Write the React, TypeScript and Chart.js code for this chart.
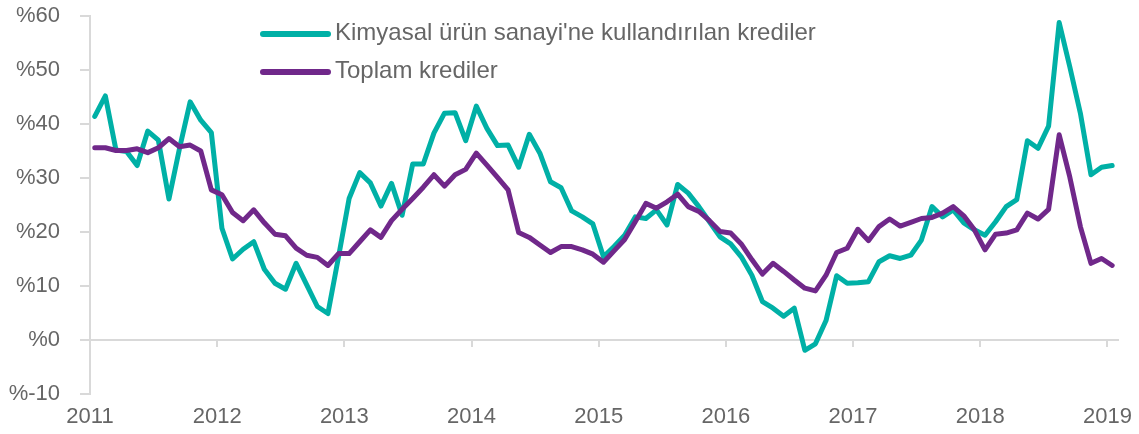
import { useEffect, useRef } from 'react';
import { Chart, registerables } from 'chart.js';

Chart.register(...registerables);

const seriesLabels = ["Kimyasal ürün sanayi'ne kullandırılan krediler", 'Toplam krediler'];

// Monthly values, Jan 2011 .. Jan 2019 (yearly % change)
const kimyasal = [
  41.4, 45.2, 35.2, 34.9, 32.3, 38.7, 37.0, 26.1, 35.5, 44.1, 40.7, 38.4,
  20.7, 15.0, 16.8, 18.2, 13.1, 10.5, 9.4, 14.2, 10.2, 6.2, 4.9, 15.4,
  26.2, 31.0, 29.1, 24.8, 29.0, 23.1, 32.6, 32.6, 38.3, 42.0, 42.1, 36.9,
  43.3, 39.2, 36.0, 36.1, 32.0, 38.1, 34.6, 29.3, 28.2, 23.9, 22.8, 21.5,
  15.4, 17.3, 19.4, 22.8, 22.5, 24.1, 21.3, 28.8, 27.2, 24.7, 21.9, 19.1,
  17.8, 15.4, 12.0, 7.1, 5.9, 4.4, 5.9, -1.9, -0.7, 3.6, 11.9, 10.5,
  10.6, 10.8, 14.5, 15.6, 15.1, 15.7, 18.5, 24.7, 22.8, 24.1, 21.7, 20.4,
  19.4, 21.9, 24.7, 26.0, 36.9, 35.5, 39.6, 58.8, 50.6, 42.0, 30.6, 32.0,
  32.3,
];

const toplam = [
  35.6, 35.6, 35.1, 35.1, 35.4, 34.7, 35.6, 37.3, 35.8, 36.1, 35.0, 27.8,
  26.9, 23.6, 22.1, 24.1, 21.7, 19.6, 19.3, 17.0, 15.7, 15.3, 13.8, 16.0,
  16.0, 18.2, 20.4, 19.0, 22.1, 24.2, 26.2, 28.3, 30.6, 28.5, 30.6, 31.6,
  34.6, 32.4, 30.1, 27.8, 19.9, 19.0, 17.6, 16.2, 17.3, 17.3, 16.7, 15.9,
  14.4, 16.5, 18.6, 21.9, 25.3, 24.4, 25.6, 27.0, 24.7, 23.8, 22.1, 20.1,
  19.8, 17.8, 14.9, 12.2, 14.2, 12.7, 11.1, 9.6, 9.1, 12.0, 16.2, 17.0,
  20.5, 18.4, 21.0, 22.4, 21.1, 21.8, 22.5, 22.7, 23.5, 24.7, 23.0, 20.4,
  16.7, 19.6, 19.8, 20.4, 23.5, 22.4, 24.2, 38.0, 30.2, 21.0, 14.2, 15.1,
  13.8,
];

const startYear = 2011;
const yearTicks = [2011, 2012, 2013, 2014, 2015, 2016, 2017, 2018, 2019];
const yTicks = [-10, 0, 10, 20, 30, 40, 50, 60];

const TEAL = '#00B0A6';
const PURPLE = '#70288A';
const AXIS = '#d9d9d9';
const TEXT = '#666666';
const FONT = "'Liberation Sans', Arial, sans-serif";

const toPoints = (values: number[]) =>
  values.map((v, i) => ({ x: startYear + (i + 0.45) / 12, y: v }));

const X_MIN = startYear;
const X_MAX = startYear + 97 / 12;

export default function App() {
  const canvasRef = useRef<HTMLCanvasElement | null>(null);

  useEffect(() => {
    document.body.style.margin = '0';
    const canvas = canvasRef.current;
    if (!canvas) return;
    const chart = new Chart(canvas, {
      type: 'line',
      data: {
        datasets: [
          {
            label: seriesLabels[0],
            data: toPoints(kimyasal),
            borderColor: TEAL,
            backgroundColor: TEAL,
            borderWidth: 5,
            pointRadius: 0,
            tension: 0,
            borderJoinStyle: 'round',
            borderCapStyle: 'round',
            order: 1,
            xAxisID: 'x',
            yAxisID: 'y',
          },
          {
            label: seriesLabels[1],
            data: toPoints(toplam),
            borderColor: PURPLE,
            backgroundColor: PURPLE,
            borderWidth: 5,
            pointRadius: 0,
            tension: 0,
            borderJoinStyle: 'round',
            borderCapStyle: 'round',
            order: 0,
            xAxisID: 'x',
            yAxisID: 'y',
          },
        ],
      },
      options: {
        animation: false,
        responsive: false,
        maintainAspectRatio: false,
        events: [],
        layout: { padding: { top: 16, right: 21, bottom: 0, left: 0 } },
        plugins: {
          legend: { display: false },
          tooltip: { enabled: false },
        },
        scales: {
          x: {
            type: 'linear',
            position: { y: 0 } as any,
            min: X_MIN,
            max: X_MAX,
            afterBuildTicks: (axis: any) => {
              axis.ticks = yearTicks.map((v) => ({ value: v }));
            },
            afterFit: (s: any) => {
              s.paddingLeft = 0;
              s.paddingRight = 0;
              s.paddingTop = 0;
              s.paddingBottom = 0;
            },
            grid: {
              drawOnChartArea: false,
              drawTicks: true,
              tickLength: 6,
              color: AXIS,
              lineWidth: 2,
            },
            border: { display: true, color: AXIS, width: 2 },
            ticks: { display: false },
          },
          x2: {
            type: 'linear',
            position: 'bottom',
            min: X_MIN,
            max: X_MAX,
            afterBuildTicks: (axis: any) => {
              axis.ticks = yearTicks.map((v) => ({ value: v }));
            },
            afterFit: (s: any) => {
              s.height = 40;
              s.paddingLeft = 0;
              s.paddingRight = 0;
            },
            grid: { display: false, drawTicks: false },
            border: { display: false },
            ticks: {
              color: TEXT,
              font: { family: FONT, size: 22 },
              padding: 10,
              maxRotation: 0,
              autoSkip: false,
              callback: (v: any) => String(v),
            },
          },
          y: {
            type: 'linear',
            position: 'left',
            min: -10,
            max: 60,
            afterBuildTicks: (axis: any) => {
              axis.ticks = yTicks.map((v) => ({ value: v }));
            },
            afterFit: (s: any) => {
              s.width = 90;
              s.paddingTop = 0;
              s.paddingBottom = 0;
            },
            grid: {
              drawOnChartArea: false,
              drawTicks: true,
              tickLength: 10,
              color: AXIS,
              lineWidth: 2,
            },
            border: { display: true, color: AXIS, width: 2 },
            ticks: {
              color: TEXT,
              font: { family: FONT, size: 22 },
              padding: 20,
              callback: (v: any) => '%' + v,
            },
          },
        },
      },
    });
    return () => chart.destroy();
  }, []);

  const legendItems = [
    { label: seriesLabels[0], color: TEAL, lineTop: 31.3, textTop: 20.3 },
    { label: seriesLabels[1], color: PURPLE, lineTop: 69.3, textTop: 58.3 },
  ];

  return (
    <div style={{ position: 'relative', width: 1139, height: 434 }}>
      <canvas ref={canvasRef} width={1139} height={434} style={{ display: 'block' }} />
      {legendItems.map((it) => (
        <div key={it.label}>
          <div
            style={{
              position: 'absolute',
              left: 260,
              top: it.lineTop,
              width: 71,
              height: 6,
              borderRadius: 3,
              background: it.color,
            }}
          />
          <div
            style={{
              position: 'absolute',
              left: 335,
              top: it.textTop,
              fontFamily: FONT,
              fontSize: 24,
              lineHeight: '24px',
              color: TEXT,
              whiteSpace: 'nowrap',
            }}
          >
            {it.label}
          </div>
        </div>
      ))}
    </div>
  );
}
